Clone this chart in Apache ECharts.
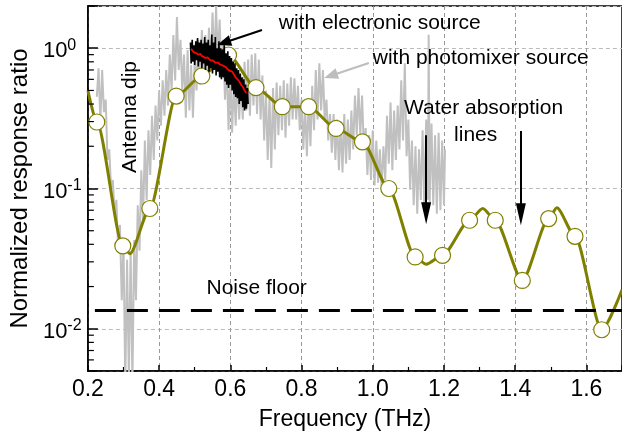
<!DOCTYPE html>
<html><head><meta charset="utf-8">
<script src="https://cdn.jsdelivr.net/npm/echarts@6/dist/echarts.min.js"></script>
<style>html,body{margin:0;padding:0;background:#fff}#c{width:622px;height:439px}</style>
</head><body><div id="c"></div>
<script>
// ---- data ----
const xMin = 0.2, xMax = 1.7, yMin = 0.005, yMax = 2;
const markerFreq = [0.225, 0.298, 0.374, 0.448, 0.520, 0.595, 0.672, 0.746, 0.820, 0.897, 0.971, 1.045, 1.119, 1.196, 1.272, 1.344, 1.420, 1.494, 1.568, 1.643];
const markerVal  = [0.298, 0.039, 0.072, 0.456, 0.634, 0.895, 0.523, 0.383, 0.383, 0.268, 0.215, 0.100, 0.0325, 0.0334, 0.0594, 0.0594, 0.0221, 0.0610, 0.0456, 0.00984];
const curveExtraFreq = [0.200, 0.318, 1.150, 1.309, 1.517, 1.700];
const curveExtraVal  = [0.50, 0.0343, 0.0288, 0.072, 0.073, 0.019];
const noiseFloor = 0.0135;
const grayData = [
[0.225,0.45],[0.230,0.72],[0.235,0.30],[0.240,0.70],[0.245,0.35],[0.250,0.43],[0.255,0.16],[0.260,0.19],[0.265,0.10],[0.270,0.115],
[0.275,0.065],[0.280,0.083],[0.285,0.036],[0.290,0.055],[0.295,0.016],[0.300,0.040],[0.305,0.004],[0.310,0.031],[0.315,0.0045],[0.320,0.036],
[0.325,0.004],[0.330,0.043],[0.335,0.016],[0.340,0.076],[0.345,0.036],[0.350,0.135],[0.355,0.060],[0.360,0.22],[0.365,0.083],[0.370,0.26],
[0.375,0.125],[0.380,0.33],[0.385,0.16],[0.390,0.39],[0.395,0.22],[0.400,0.50],[0.405,0.28],[0.410,0.59],[0.415,0.33],[0.420,0.70],
[0.425,0.39],[0.430,0.90],[0.435,0.50],[0.440,1.24],[0.445,0.59],[0.450,1.67],[0.455,0.70],[0.460,1.15],[0.465,0.50],[0.470,0.90],
[0.475,0.32],[0.480,0.97],[0.485,0.36],[0.490,0.76],[0.495,0.32],[0.500,0.83],[0.505,0.50],[0.510,1.15],[0.515,0.55],[0.520,1.35],
[0.525,0.59],[0.530,1.24],[0.535,0.64],[0.540,1.40],[0.545,0.70],[0.550,1.80],[0.555,0.76],[0.560,1.97],[0.565,0.83],[0.570,1.60],
[0.575,0.64],[0.580,1.15],[0.585,0.43],[0.590,0.76],[0.595,0.26],[0.600,0.70],[0.605,0.25],[0.610,0.59],[0.615,0.28],[0.620,0.64],
[0.625,0.31],[0.630,0.59],[0.635,0.31],[0.640,0.80],[0.645,0.36],[0.650,0.83],[0.655,0.33],[0.660,0.90],[0.665,0.39],[0.670,0.92],
[0.675,0.34],[0.680,0.83],[0.685,0.31],[0.690,0.64],[0.695,0.22],[0.700,0.50],[0.705,0.16],[0.710,0.46],[0.715,0.14],[0.720,0.52],
[0.725,0.19],[0.730,0.57],[0.735,0.24],[0.740,0.54],[0.745,0.26],[0.750,0.59],[0.755,0.23],[0.760,0.56],[0.765,0.28],[0.770,0.62],
[0.775,0.31],[0.780,0.61],[0.785,0.31],[0.790,0.54],[0.795,0.26],[0.800,0.43],[0.805,0.19],[0.810,0.39],[0.815,0.17],[0.820,0.43],
[0.825,0.20],[0.830,0.54],[0.835,0.26],[0.840,0.70],[0.845,0.31],[0.850,0.78],[0.855,0.36],[0.860,0.70],[0.865,0.31],[0.870,0.43],
[0.875,0.22],[0.880,0.34],[0.885,0.18],[0.890,0.34],[0.895,0.16],[0.900,0.31],[0.905,0.135],[0.910,0.30],[0.915,0.13],[0.920,0.34],
[0.925,0.15],[0.930,0.31],[0.935,0.16],[0.940,0.36],[0.945,0.19],[0.950,0.46],[0.955,0.24],[0.960,0.52],[0.965,0.24],[0.970,0.46],
[0.975,0.19],[0.980,0.27],[0.985,0.125],[0.990,0.24],[0.995,0.115],[1.000,0.26],[1.005,0.105],[1.010,0.22],[1.015,0.11],[1.020,0.19],
[1.025,0.10],[1.030,0.20],[1.035,0.115],[1.040,0.33],[1.045,0.15],[1.050,0.41],[1.055,0.135],[1.060,0.36],[1.065,0.16],[1.070,0.39],
[1.075,0.19],[1.080,0.59],[1.085,0.22],[1.090,0.78],[1.095,0.17],[1.100,0.31],[1.105,0.098],[1.110,0.22],[1.115,0.076],[1.120,0.20],
[1.125,0.066],[1.130,0.19],[1.135,0.083],[1.140,0.26],[1.145,0.070],[1.150,0.31],[1.155,0.083],[1.157,1.25],[1.160,0.08],[1.165,0.29],
[1.170,0.076],[1.175,0.24],[1.180,0.066],[1.185,0.25],[1.190,0.070],[1.195,0.22],[1.200,0.076],[1.203,0.19]
];
const blackData = [
[0.488,1.10],[0.490,0.78],[0.493,1.15],[0.495,0.80],[0.498,1.05],[0.500,0.76],[0.503,1.12],[0.505,0.82],[0.508,1.18],[0.510,0.74],
[0.513,1.10],[0.515,0.80],[0.518,1.15],[0.520,0.72],[0.523,1.08],[0.525,0.78],[0.528,1.20],[0.530,0.70],[0.533,1.10],[0.535,0.75],
[0.538,1.15],[0.540,0.68],[0.543,1.05],[0.545,0.72],[0.548,1.25],[0.550,0.66],[0.553,1.10],[0.555,0.70],[0.558,1.20],[0.560,0.64],
[0.563,1.00],[0.565,0.68],[0.568,1.12],[0.570,0.62],[0.573,1.00],[0.575,0.60],[0.578,0.98],[0.580,0.62],[0.583,1.05],[0.585,0.58],
[0.588,0.92],[0.590,0.55],[0.593,0.95],[0.595,0.52],[0.598,0.88],[0.600,0.55],[0.603,0.85],[0.605,0.50],[0.608,0.80],[0.610,0.47],
[0.613,0.78],[0.615,0.45],[0.618,0.72],[0.620,0.44],[0.623,0.70],[0.625,0.40],[0.628,0.66],[0.630,0.42],[0.633,0.62],[0.635,0.38],
[0.638,0.60],[0.640,0.36],[0.643,0.55],[0.645,0.37],[0.648,0.52],[0.650,0.40]
];
const redFreq = [0.490,0.495,0.500,0.505,0.510,0.515,0.520,0.525,0.530,0.535,0.540,0.545,0.550,0.555,0.560,0.565,0.570,0.575,0.580,0.585,0.590,0.595,0.600,0.605,0.610,0.615,0.620,0.625,0.630,0.635,0.640,0.645];
const redVal  = [0.99,0.95,0.93,0.92,0.90,0.91,0.88,0.87,0.85,0.86,0.84,0.82,0.82,0.80,0.79,0.79,0.77,0.76,0.75,0.74,0.72,0.70,0.69,0.68,0.65,0.62,0.60,0.58,0.55,0.53,0.50,0.48];
const yMinorTicks = [0.006,0.007,0.008,0.009,0.02,0.03,0.04,0.05,0.06,0.07,0.08,0.09,0.2,0.3,0.4,0.5,0.6,0.7,0.8,0.9,2];
// annotations: text anchored at data coordinates
const labels = [
  {text:'with electronic source', f:0.736, v:1.52, align:'left'},
  {text:'with photomixer source', f:1.000, v:0.853, align:'left'},
  {text:'Water absorption', f:1.311, v:0.375, align:'center'},
  {text:'lines', f:1.289, v:0.240, align:'center'},
  {text:'Noise floor', f:0.674, v:0.0194, align:'center'},
  {text:'Antenna dip', f:0.319, v:0.323, align:'center', rotate:true}
];
const arrows = [
  {from:[0.689,1.35], to:[0.582,1.094], color:'#000', size:[11,14]},
  {from:[0.989,0.785], to:[0.882,0.636], color:'#bdbdbd', size:[11,14]},
  {from:[1.150,0.24], to:[1.150,0.0667], color:'#000', size:[10,22]},
  {from:[1.416,0.257], to:[1.416,0.0655], color:'#000', size:[10,22]}
];

// ---- build ----
const FONT = "'Liberation Sans', Arial, sans-serif";
const OLIVE = '#808000';
const curveData = markerFreq.map((f,i)=>[f, markerVal[i]])
  .concat(curveExtraFreq.map((f,i)=>[f, curveExtraVal[i]]))
  .sort((a,b)=>a[0]-b[0]);
const markerData = markerFreq.map((f,i)=>[f, markerVal[i]]);
const redData = redFreq.map((f,i)=>[f, redVal[i]]);

const chart = echarts.init(document.getElementById('c'), null, {renderer:'canvas'});
const option = {
  animation:false,
  backgroundColor:'#fff',
  grid:{left:84, right:-2, top:6, bottom:68, show:true, borderColor:'#000', borderWidth:1.5, backgroundColor:'transparent'},
  xAxis:{
    type:'value', min:xMin, max:xMax, interval:0.2,
    name:'Frequency (THz)', nameLocation:'middle', nameGap:37,
    nameTextStyle:{fontFamily:FONT, fontSize:23, color:'#000', padding:[0,20,0,0]},
    axisLine:{show:true, onZero:false, lineStyle:{color:'#000', width:1.5}},
    axisTick:{show:true, inside:true, length:6, lineStyle:{color:'#000', width:1.5}},
    minorTick:{show:true, splitNumber:2, length:4, lineStyle:{color:'#000', width:1.2}},
    axisLabel:{fontFamily:FONT, fontSize:23, color:'#000', margin:7, showMaxLabel:false,
      formatter:v=>v.toFixed(1)},
    splitLine:{show:true, lineStyle:{color:'#999', type:[4,3], width:1}}
  },
  yAxis:{
    type:'log', min:yMin, max:yMax, logBase:10,
    name:'Normalized response ratio', nameLocation:'middle', nameGap:53,
    nameTextStyle:{fontFamily:FONT, fontSize:24, color:'#000'},
    axisLine:{show:true, onZero:false, lineStyle:{color:'#000', width:1.5}},
    axisTick:{show:true, inside:true, length:10, lineStyle:{color:'#000', width:1.5}},
    axisLabel:{align:'left', margin:45, padding:[6,0,0,0],
      formatter:v=>{const l=Math.log10(v); const e=Math.round(l); if(Math.abs(l-e)>1e-6) return ''; return '{b|10}{s|'+e+'}';},
      rich:{b:{fontFamily:FONT, fontSize:22, color:'#000', lineHeight:28},
            s:{fontFamily:FONT, fontSize:16, color:'#000', lineHeight:16, verticalAlign:'top'}}},
    splitLine:{show:true, lineStyle:{color:'#bbb', type:[4,3], width:1}}
  },
  series:[
    {type:'line', name:'photomixer', data:grayData, showSymbol:false, symbol:'none',
      lineStyle:{color:'#c0c0c0', width:2}, z:1, silent:true},
    {type:'line', name:'curve', data:curveData, smooth:0.25, smoothMonotone:'x', showSymbol:false, symbol:'none',
      lineStyle:{color:OLIVE, width:3}, z:2, silent:true},
    {type:'scatter', name:'markers', data:markerData, symbol:'circle', symbolSize:16,
      itemStyle:{color:'#fff', borderColor:OLIVE, borderWidth:1.2, opacity:1}, z:3, silent:true},
    {type:'line', name:'electronic', data:blackData, showSymbol:false, symbol:'none',
      lineStyle:{color:'#000', width:1.6}, z:4, silent:true},
    {type:'line', name:'electronicAvg', data:redData, smooth:0.3, showSymbol:false, symbol:'none',
      lineStyle:{color:'#ff0000', width:1.8}, z:5, silent:true},
    {type:'line', name:'noise', data:[[xMin,noiseFloor],[xMax,noiseFloor]], showSymbol:false, symbol:'none',
      lineStyle:{color:'#000', width:3, type:[21,11], dashOffset:25}, z:6, silent:true,
      markLine:{silent:true, animation:false, label:{show:false},
        data: arrows.map(a=>[
          {coord:a.from, symbol:'none', lineStyle:{color:a.color, width:2, type:'solid'}},
          {coord:a.to, symbol:'triangle', symbolSize:a.size, itemStyle:{color:a.color}, lineStyle:{color:a.color, width:2, type:'solid'}}
        ])
      }},
    {type:'custom', name:'yMinorTicks', data:yMinorTicks.map(v=>[xMin, v]), clip:false, silent:true, z:7,
      renderItem:(params, api)=>{
        const p = api.coord([api.value(0), api.value(1)]);
        return {type:'line', shape:{x1:p[0], y1:p[1], x2:p[0]+6, y2:p[1]}, style:{stroke:'#000', lineWidth:1.2}};
      }}
  ]
};
chart.setOption(option);
const graphics = labels.map(l=>{
  const p = chart.convertToPixel({xAxisIndex:0, yAxisIndex:0}, [l.f, l.v]);
  return {type:'text', x:p[0], y:p[1], rotation: l.rotate ? Math.PI/2 : 0, z:100, silent:true,
    style:{text:l.text, fontFamily:FONT, fontSize:21, fill:'#000', align:l.align, verticalAlign:'middle'}};
});
chart.setOption({graphic:graphics});
</script>
</body></html>
